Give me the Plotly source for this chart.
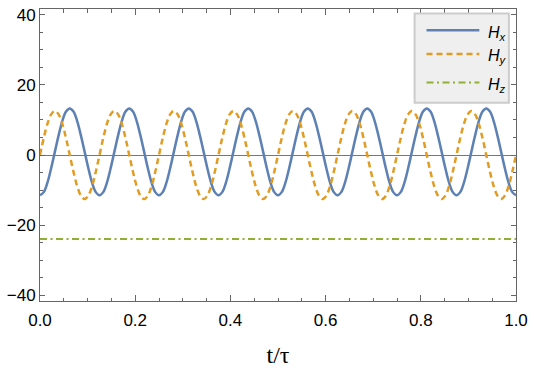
import plotly.graph_objects as go

# sample times (t/tau), 16 samples per oscillation period
t_vals = [0.0, 0.0078, 0.0156, 0.0234, 0.0312, 0.0391, 0.0469, 0.0547,
          0.0625, 0.0703, 0.0781, 0.0859, 0.0938, 0.1016, 0.1094, 0.1172,
          0.125, 0.1328, 0.1406, 0.1484, 0.1562, 0.1641, 0.1719, 0.1797,
          0.1875, 0.1953, 0.2031, 0.2109, 0.2188, 0.2266, 0.2344, 0.2422,
          0.25, 0.2578, 0.2656, 0.2734, 0.2812, 0.2891, 0.2969, 0.3047,
          0.3125, 0.3203, 0.3281, 0.3359, 0.3438, 0.3516, 0.3594, 0.3672,
          0.375, 0.3828, 0.3906, 0.3984, 0.4062, 0.4141, 0.4219, 0.4297,
          0.4375, 0.4453, 0.4531, 0.4609, 0.4688, 0.4766, 0.4844, 0.4922,
          0.5, 0.5078, 0.5156, 0.5234, 0.5312, 0.5391, 0.5469, 0.5547,
          0.5625, 0.5703, 0.5781, 0.5859, 0.5938, 0.6016, 0.6094, 0.6172,
          0.625, 0.6328, 0.6406, 0.6484, 0.6562, 0.6641, 0.6719, 0.6797,
          0.6875, 0.6953, 0.7031, 0.7109, 0.7188, 0.7266, 0.7344, 0.7422,
          0.75, 0.7578, 0.7656, 0.7734, 0.7812, 0.7891, 0.7969, 0.8047,
          0.8125, 0.8203, 0.8281, 0.8359, 0.8438, 0.8516, 0.8594, 0.8672,
          0.875, 0.8828, 0.8906, 0.8984, 0.9062, 0.9141, 0.9219, 0.9297,
          0.9375, 0.9453, 0.9531, 0.9609, 0.9688, 0.9766, 0.9844, 0.9922,
          1.0]

hx_vals = [-11.5, -10.6, -7.9, -3.8, 0.9, 5.6, 9.7, 12.4, 13.3, 12.4, 9.7, 5.6, 0.9, -3.8, -7.9, -10.6,
           -11.5, -10.6, -7.9, -3.8, 0.9, 5.6, 9.7, 12.4, 13.3, 12.4, 9.7, 5.6, 0.9, -3.8, -7.9, -10.6,
           -11.5, -10.6, -7.9, -3.8, 0.9, 5.6, 9.7, 12.4, 13.3, 12.4, 9.7, 5.6, 0.9, -3.8, -7.9, -10.6,
           -11.5, -10.6, -7.9, -3.8, 0.9, 5.6, 9.7, 12.4, 13.3, 12.4, 9.7, 5.6, 0.9, -3.8, -7.9, -10.6,
           -11.5, -10.6, -7.9, -3.8, 0.9, 5.6, 9.7, 12.4, 13.3, 12.4, 9.7, 5.6, 0.9, -3.8, -7.9, -10.6,
           -11.5, -10.6, -7.9, -3.8, 0.9, 5.6, 9.7, 12.4, 13.3, 12.4, 9.7, 5.6, 0.9, -3.8, -7.9, -10.6,
           -11.5, -10.6, -7.9, -3.8, 0.9, 5.6, 9.7, 12.4, 13.3, 12.4, 9.7, 5.6, 0.9, -3.8, -7.9, -10.6,
           -11.5, -10.6, -7.9, -3.8, 0.9, 5.6, 9.7, 12.4, 13.3, 12.4, 9.7, 5.6, 0.9, -3.8, -7.9, -10.6,
           -11.5]

hy_vals = [0.0, 4.8, 8.9, 11.6, 12.6, 11.6, 8.9, 4.8, 0.0, -4.8, -8.9, -11.6, -12.6, -11.6, -8.9, -4.8,
           0.0, 4.8, 8.9, 11.6, 12.6, 11.6, 8.9, 4.8, 0.0, -4.8, -8.9, -11.6, -12.6, -11.6, -8.9, -4.8,
           0.0, 4.8, 8.9, 11.6, 12.6, 11.6, 8.9, 4.8, 0.0, -4.8, -8.9, -11.6, -12.6, -11.6, -8.9, -4.8,
           0.0, 4.8, 8.9, 11.6, 12.6, 11.6, 8.9, 4.8, 0.0, -4.8, -8.9, -11.6, -12.6, -11.6, -8.9, -4.8,
           0.0, 4.8, 8.9, 11.6, 12.6, 11.6, 8.9, 4.8, 0.0, -4.8, -8.9, -11.6, -12.6, -11.6, -8.9, -4.8,
           0.0, 4.8, 8.9, 11.6, 12.6, 11.6, 8.9, 4.8, 0.0, -4.8, -8.9, -11.6, -12.6, -11.6, -8.9, -4.8,
           0.0, 4.8, 8.9, 11.6, 12.6, 11.6, 8.9, 4.8, 0.0, -4.8, -8.9, -11.6, -12.6, -11.6, -8.9, -4.8,
           0.0, 4.8, 8.9, 11.6, 12.6, 11.6, 8.9, 4.8, 0.0, -4.8, -8.9, -11.6, -12.6, -11.6, -8.9, -4.8,
           0.0]

hz_t = [0.0, 1.0]
hz_vals = [-24.0, -24.0]

names = ['<i>H<sub>x</sub></i>', '<i>H<sub>y</sub></i>', '<i>H<sub>z</sub></i>']
colors = ['#5E81B5', '#E19C24', '#8FB032']
dashes = ['solid', '6px,4px', '7px,3.5px,2px,3.5px']

fig = go.Figure()
fig.add_trace(go.Scatter(x=t_vals, y=hx_vals, mode='lines', line_shape='spline',
                         line=dict(color=colors[0], width=2.5, dash=dashes[0])))
fig.add_trace(go.Scatter(x=t_vals, y=hy_vals, mode='lines', line_shape='spline',
                         line=dict(color=colors[1], width=2.5, dash=dashes[1])))
fig.add_trace(go.Scatter(x=hz_t, y=hz_vals, mode='lines',
                         line=dict(color=colors[2], width=2, dash=dashes[2])))

tickfont = dict(family='Liberation Sans, Arial', size=17, color='black')
fig.update_layout(
    width=534, height=369,
    margin=dict(l=40, r=15, t=6, b=67),
    paper_bgcolor='white', plot_bgcolor='white',
    showlegend=False,
)
fig.update_xaxes(range=[0, 1], tickvals=[0, 0.2, 0.4, 0.6, 0.8, 1.0],
                 ticktext=['0.0', '0.2', '0.4', '0.6', '0.8', '1.0'],
                 ticks='inside', ticklen=6, tickcolor='#666', tickwidth=1, ticklabelstandoff=4,
                 minor=dict(dtick=0.05, ticks='inside', ticklen=3.5, tickcolor='#666', showgrid=False),
                 showline=True, linecolor='#666', linewidth=1, mirror='ticks',
                 showgrid=False, zeroline=False, tickfont=tickfont,
                 title=dict(text='t/τ',
                            font=dict(family='"Liberation Serif", "DejaVu Serif", serif', size=24, color='black'),
                            standoff=16))
fig.update_yaxes(range=[-41.7, 41.7], tickvals=[-40, -20, 0, 20, 40],
                 ticks='inside', ticklen=5, tickcolor='#666', tickwidth=1,
                 minor=dict(dtick=5, ticks='inside', ticklen=3, tickcolor='#666', showgrid=False),
                 showline=True, linecolor='#666', linewidth=1, mirror='ticks',
                 showgrid=False, zeroline=True, zerolinecolor='#777', zerolinewidth=1,
                 tickfont=tickfont)

# legend box drawn by hand (Mathematica style)
fig.add_shape(type='rect', xref='paper', yref='paper', x0=0.787, x1=0.985, y0=0.679, y1=0.985,
              fillcolor='#EFEFEF', line=dict(color='#CCCCCC', width=2), layer='above')
leg_y = [0.927, 0.846, 0.748]
for i in range(3):
    fig.add_shape(type='line', xref='paper', yref='paper', x0=0.812, x1=0.923, y0=leg_y[i], y1=leg_y[i],
                  line=dict(color=colors[i], width=2.5 if i < 2 else 2, dash=dashes[i]), layer='above')
    fig.add_annotation(xref='paper', yref='paper', x=0.937, y=leg_y[i] - 0.01, text=names[i], showarrow=False,
                       xanchor='left', yanchor='middle',
                       font=dict(family='Liberation Sans, Arial', size=16, color='black'))

fig.write_html("out.html", config={'displayModeBar': False},
               post_script="document.body.style.margin='0';")
